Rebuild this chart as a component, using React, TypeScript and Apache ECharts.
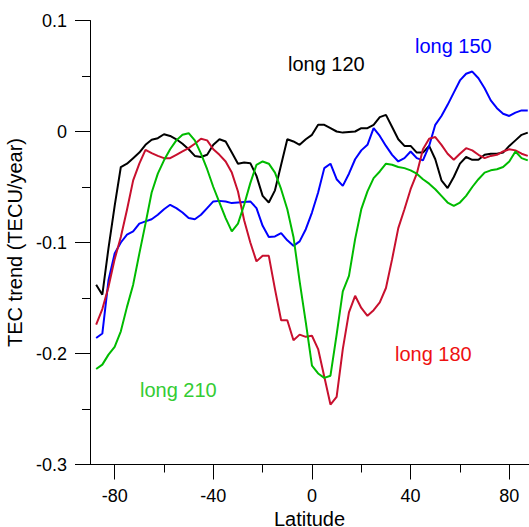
import React, { useEffect, useRef } from "react";
import * as echarts from "echarts";

const latitudes: number[] = [];
for (let i = 0; i < 71; i++) latitudes.push(-87.5 + i * 2.5);

const long120 = [
  -0.138, -0.147, -0.105, -0.067, -0.032, -0.029, -0.024, -0.019, -0.012, -0.0075,
  -0.006, -0.0025, -0.004, -0.007, -0.011, -0.016, -0.022, -0.023, -0.021, -0.012,
  -0.007, -0.009, -0.019, -0.029, -0.028, -0.0285, -0.04, -0.058, -0.064, -0.053,
  -0.03, -0.007, -0.009, -0.012, -0.007, -0.003, 0.006, 0.006, 0.003, 0.0,
  -0.001, -0.0005, 0.0, 0.003, 0.003, 0.006, 0.013, 0.015, 0.004, -0.007,
  -0.013, -0.013, -0.019, -0.019, -0.013, -0.025, -0.044, -0.051, -0.041, -0.029,
  -0.023, -0.0255, -0.0255, -0.021, -0.02, -0.02, -0.019, -0.013, -0.008, -0.003,
  -0.001,
];

const long150 = [
  -0.186, -0.182, -0.134, -0.11, -0.1, -0.093, -0.09, -0.083, -0.081, -0.079,
  -0.075, -0.07, -0.066, -0.069, -0.073, -0.078, -0.079, -0.075, -0.069, -0.063,
  -0.0625, -0.063, -0.0645, -0.064, -0.0635, -0.063, -0.069, -0.085, -0.095, -0.0945,
  -0.0915, -0.098, -0.103, -0.099, -0.088, -0.073, -0.055, -0.033, -0.029, -0.043,
  -0.049, -0.038, -0.025, -0.017, -0.012, 0.003, -0.004, -0.013, -0.021, -0.027,
  -0.024, -0.018, -0.024, -0.026, -0.013, 0.006, 0.014, 0.024, 0.035, 0.046,
  0.052, 0.054, 0.048, 0.039, 0.028, 0.021, 0.016, 0.014, 0.017, 0.019,
  0.019,
];

const long180 = [
  -0.174, -0.16, -0.14, -0.115, -0.095, -0.0705, -0.044, -0.029, -0.0165, -0.0195,
  -0.022, -0.024, -0.024, -0.021, -0.018, -0.015, -0.011, -0.0066, -0.008, -0.016,
  -0.021, -0.027, -0.037, -0.054, -0.08, -0.1, -0.117, -0.112, -0.112, -0.142,
  -0.17, -0.17, -0.188, -0.183, -0.185, -0.184, -0.196, -0.221, -0.246, -0.239,
  -0.196, -0.163, -0.148, -0.159, -0.166, -0.161, -0.154, -0.141, -0.115, -0.087,
  -0.07, -0.052, -0.038, -0.016, -0.0065, -0.005, -0.012, -0.02, -0.0255, -0.02,
  -0.015, -0.017, -0.021, -0.024, -0.022, -0.021, -0.018, -0.016, -0.017, -0.02,
  -0.022,
];

const long210 = [
  -0.214, -0.21, -0.201, -0.194, -0.18, -0.158, -0.138, -0.11, -0.083, -0.055,
  -0.038, -0.026, -0.016, -0.008, -0.003, -0.0015, -0.008, -0.02, -0.034, -0.05,
  -0.064, -0.078, -0.09, -0.083, -0.066, -0.0465, -0.03, -0.027, -0.029, -0.037,
  -0.052, -0.07, -0.095, -0.135, -0.172, -0.211, -0.218, -0.222, -0.22, -0.183,
  -0.144, -0.13, -0.097, -0.07, -0.054, -0.042, -0.036, -0.029, -0.03, -0.032,
  -0.033, -0.035, -0.038, -0.043, -0.047, -0.052, -0.058, -0.064, -0.067, -0.064,
  -0.058, -0.05, -0.043, -0.037, -0.035, -0.034, -0.032, -0.027, -0.018, -0.024,
  -0.026,
];

const xMajorTicks = [-80, -40, 0, 40, 80];
const xMinorTicks = [-60, -20, 20, 60];

const seriesDefs = [
  { name: "long 120", data: long120, color: "#000000" },
  { name: "long 150", data: long150, color: "#0000ff" },
  { name: "long 180", data: long180, color: "#c8102e" },
  { name: "long 210", data: long210, color: "#00bb00" },
];

const FONT = 'Arial, "Liberation Sans", sans-serif';

export default function App() {
  const ref = useRef<HTMLDivElement>(null);
  useEffect(() => {
    if (!ref.current) return;
    const chart = echarts.init(ref.current, undefined, { renderer: "svg" });
    const axisLine = { show: true, onZero: false, lineStyle: { color: "#000", width: 1 } };
    chart.setOption({
      animation: false,
      backgroundColor: "#fff",
      grid: {
        left: 90,
        right: 0,
        top: 20.5,
        bottom: 62.5,
        containLabel: false,
        outerBoundsMode: "none",
      },
      xAxis: [
        {
          type: "value",
          min: -90,
          max: 88,
          axisLine,
          axisTick: { show: true, customValues: xMajorTicks, length: 15, inside: false, lineStyle: { color: "#000" } },
          axisLabel: { customValues: xMajorTicks, color: "#000", fontSize: 18, fontFamily: FONT, margin: 22 },
          splitLine: { show: false },
          name: "Latitude",
          nameLocation: "middle",
          nameGap: 39,
          nameTextStyle: { color: "#000", fontSize: 20, lineHeight: 20, fontFamily: FONT },
        },
        {
          type: "value",
          min: -90,
          max: 88,
          position: "bottom",
          axisLine: { show: false, onZero: false },
          axisTick: { show: true, customValues: xMinorTicks, length: 8, inside: false, lineStyle: { color: "#000" } },
          axisLabel: { show: false },
          splitLine: { show: false },
        },
      ],
      yAxis: {
        type: "value",
        min: -0.3,
        max: 0.1,
        interval: 0.1,
        axisLine,
        axisTick: { show: true, length: 15, lineStyle: { color: "#000" } },
        minorTick: { show: true, splitNumber: 2, length: 8, lineStyle: { color: "#000" } },
        axisLabel: {
          color: "#000",
          fontSize: 18,
          fontFamily: FONT,
          margin: 23,
          formatter: (v: number) => {
            const r = Math.round(v * 10) / 10;
            return r === 0 ? "0" : String(r);
          },
        },
        splitLine: { show: false },
        name: "TEC trend (TECU/year)",
        nameLocation: "middle",
        nameGap: 56,
        nameTextStyle: { color: "#000", fontSize: 20, fontFamily: FONT },
      },
      series: seriesDefs.map((s) => ({
        name: s.name,
        type: "line",
        xAxisIndex: 0,
        data: latitudes.map((lat, i) => [lat, s.data[i]]),
        showSymbol: false,
        symbol: "none",
        lineStyle: { color: s.color, width: 2 },
        itemStyle: { color: s.color },
      })),
      graphic: [
        { type: "text", x: 288, y: 64, style: { text: "long 120", fill: "#000000", font: `20px ${FONT}`, verticalAlign: "middle" } },
        { type: "text", x: 415, y: 46, style: { text: "long 150", fill: "#0000ff", font: `20px ${FONT}`, verticalAlign: "middle" } },
        { type: "text", x: 395, y: 354, style: { text: "long 180", fill: "#ee1111", font: `20px ${FONT}`, verticalAlign: "middle" } },
        { type: "text", x: 140, y: 390, style: { text: "long 210", fill: "#33cc33", font: `20px ${FONT}`, verticalAlign: "middle" } },
      ],
    });
    return () => chart.dispose();
  }, []);
  return (
    <div
      ref={ref}
      style={{ position: "absolute", left: 0, top: 0, width: 529, height: 527 }}
    />
  );
}
